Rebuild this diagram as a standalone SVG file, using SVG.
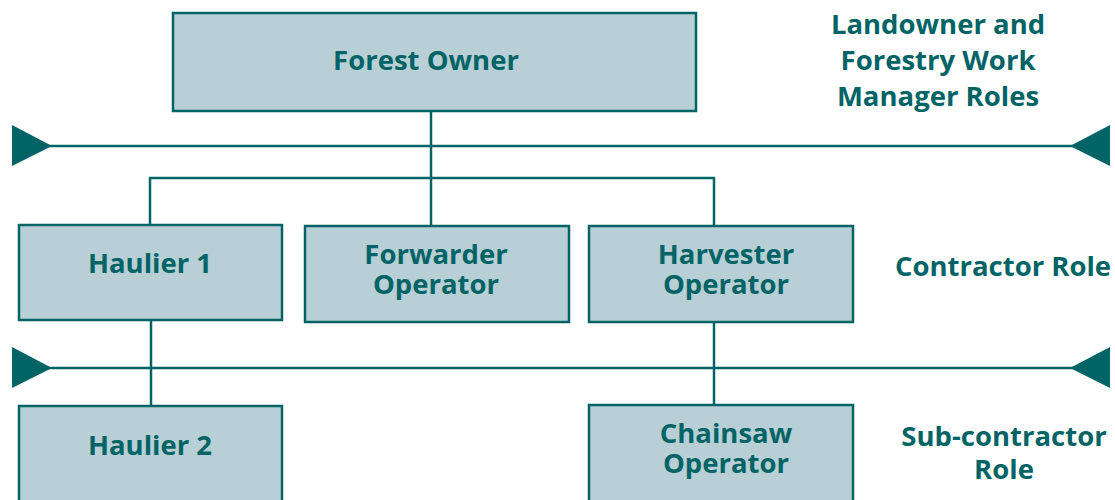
<svg xmlns="http://www.w3.org/2000/svg" width="1115" height="500" viewBox="0 0 1115 500">
  <style>
    .box { fill: #b8cfd5; stroke: #006466; stroke-width: 2.5; }
    .lbl { font-family: "Open Sans", "Liberation Sans", sans-serif; font-weight: bold; font-size: 27.5px; fill: #006466; text-anchor: middle; }
    .wire { stroke: #006466; stroke-width: 2.5; fill: none; }
    .tri { fill: #006466; }
  </style>

  <!-- connectors and role dividers -->
  <g id="connectors">
    <line class="wire" x1="431" y1="111" x2="431" y2="226"/>
    <polyline class="wire" points="150,225 150,178 714,178 714,226"/>
    <line class="wire" x1="151" y1="320" x2="151" y2="406"/>
    <line class="wire" x1="714" y1="322" x2="714" y2="405"/>
    <line class="wire" x1="40" y1="146" x2="1080" y2="146"/>
    <line class="wire" x1="40" y1="368" x2="1080" y2="368"/>
    <polygon class="tri" points="12,125 52,146 12,166"/>
    <polygon class="tri" points="1110,125 1070,146 1110,166"/>
    <polygon class="tri" points="12,347 52,368 12,388"/>
    <polygon class="tri" points="1110,347 1070,368 1110,388"/>
  </g>

  <g id="forest-owner">
    <rect class="box" x="173" y="13" width="523" height="98"/>
    <text class="lbl" x="426" y="70">Forest Owner</text>
  </g>

  <g id="haulier-1">
    <rect class="box" x="19" y="225" width="263" height="95"/>
    <text class="lbl" x="150" y="273">Haulier 1</text>
  </g>

  <g id="forwarder-operator">
    <rect class="box" x="305" y="226" width="264" height="96"/>
    <text class="lbl" x="436" y="264">Forwarder</text>
    <text class="lbl" x="436" y="294">Operator</text>
  </g>

  <g id="harvester-operator">
    <rect class="box" x="589" y="226" width="264" height="96"/>
    <text class="lbl" x="726" y="264">Harvester</text>
    <text class="lbl" x="726" y="294">Operator</text>
  </g>

  <g id="haulier-2">
    <rect class="box" x="19" y="406" width="263" height="110"/>
    <text class="lbl" x="150" y="455">Haulier 2</text>
  </g>

  <g id="chainsaw-operator">
    <rect class="box" x="589" y="405" width="264" height="110"/>
    <text class="lbl" x="726" y="443">Chainsaw</text>
    <text class="lbl" x="726" y="473">Operator</text>
  </g>

  <g id="role-labels">
    <text class="lbl" x="938" y="34">Landowner and</text>
    <text class="lbl" x="938" y="70">Forestry Work</text>
    <text class="lbl" x="938" y="106">Manager Roles</text>
    <text class="lbl" x="1003" y="276">Contractor Role</text>
    <text class="lbl" x="1004" y="446">Sub-contractor</text>
    <text class="lbl" x="1004" y="479">Role</text>
  </g>
</svg>
